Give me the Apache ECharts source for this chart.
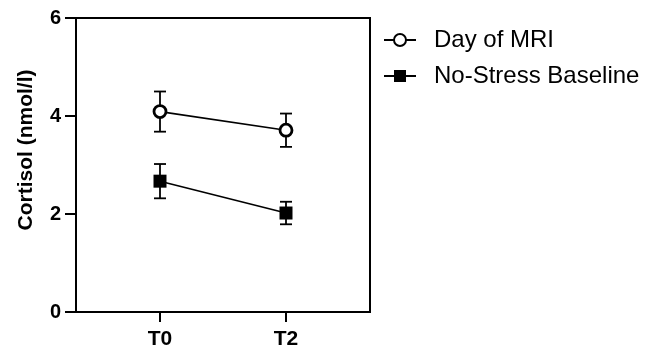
<!DOCTYPE html>
<html>
<head>
<meta charset="utf-8">
<script src="https://cdn.jsdelivr.net/npm/echarts@6/dist/echarts.min.js"></script>
<style>html,body{margin:0;padding:0;background:#fff}#c{width:650px;height:348px}</style>
</head>
<body>
<div id="c"></div>
<script>
var categories = ['T0', 'T2'];
var dayOfMRI = [4.09, 3.71];
var dayOfMRIErr = [0.41, 0.34];
var noStress = [2.67, 2.02];
var noStressErr = [0.35, 0.23];
var yTicks = [0, 2, 4, 6];

// axis layout: 8 slots, categories placed in slots 2 and 5
var slotCount = 8, catSlots = [2, 5];
var axisData = [];
for (var i = 0; i < slotCount; i++) axisData.push('');
categories.forEach(function (c, k) { axisData[catSlots[k]] = c; });

function pts(vals) { return vals.map(function (v, k) { return [catSlots[k], v]; }); }
function errData(vals, errs) { return vals.map(function (v, k) { return [catSlots[k], v - errs[k], v + errs[k]]; }); }

function errRender(params, api) {
  var x = api.value(0), lo = api.value(1), hi = api.value(2);
  var pLo = api.coord([x, lo]), pHi = api.coord([x, hi]);
  var w = 6;
  var st = { stroke: '#000', lineWidth: 1.8 };
  return { type: 'group', children: [
    { type: 'line', shape: { x1: pLo[0], y1: pLo[1], x2: pHi[0], y2: pHi[1] }, style: st },
    { type: 'line', shape: { x1: pLo[0] - w, y1: pLo[1], x2: pLo[0] + w, y2: pLo[1] }, style: st },
    { type: 'line', shape: { x1: pHi[0] - w, y1: pHi[1], x2: pHi[0] + w, y2: pHi[1] }, style: st }
  ]};
}

var font = 'Liberation Sans, Arial, Helvetica, sans-serif';
var chart = echarts.init(document.getElementById('c'));
chart.setOption({
  animation: false,
  grid: { left: 76, right: 280, top: 18, bottom: 36, outerBoundsMode: 'none', containLabel: false,
    show: true, borderColor: '#000', borderWidth: 2, backgroundColor: 'transparent' },
  legend: {
    left: 383, top: 28, orient: 'vertical', itemWidth: 32, itemHeight: 15, itemGap: 12, padding: 0,
    textStyle: { fontFamily: font, fontSize: 24, color: '#000', padding: [0, 0, 0, 13] },
    data: ['Day of MRI', 'No-Stress Baseline']
  },
  xAxis: {
    type: 'category', data: axisData, boundaryGap: false,
    axisLine: { lineStyle: { color: '#000', width: 2 } },
    axisTick: { length: 10, lineStyle: { color: '#000', width: 2 }, interval: function (i, v) { return v !== ''; } },
    axisLabel: { interval: function (i, v) { return v !== ''; }, fontFamily: font, fontWeight: 'bold', fontSize: 21, color: '#000', margin: 17 },
    splitLine: { show: false }
  },
  yAxis: {
    type: 'value', min: 0, max: 6, interval: 2,
    name: 'Cortisol (nmol/l)', nameLocation: 'middle', nameGap: 39,
    nameTextStyle: { fontFamily: font, fontWeight: 'bold', fontSize: 21, color: '#000', padding: [0, 0, 0, 30] },
    axisLine: { show: true, lineStyle: { color: '#000', width: 2 } },
    axisTick: { show: true, length: 11, lineStyle: { color: '#000', width: 2 } },
    axisLabel: { fontFamily: font, fontWeight: 'bold', fontSize: 20, color: '#000', margin: 15,
      formatter: function (v) { return yTicks.indexOf(v) >= 0 ? String(v) : ''; } },
    splitLine: { show: false }
  },
  series: [
    { type: 'custom', renderItem: errRender, data: errData(dayOfMRI, dayOfMRIErr), z: 1, silent: true },
    { type: 'custom', renderItem: errRender, data: errData(noStress, noStressErr), z: 1, silent: true },
    { name: 'Day of MRI', type: 'line', data: pts(dayOfMRI), z: 3,
      symbol: 'circle', symbolSize: 12,
      itemStyle: { color: '#fff', borderColor: '#000', borderWidth: 2.8 },
      lineStyle: { color: '#000', width: 1.6 } },
    { name: 'No-Stress Baseline', type: 'line', data: pts(noStress), z: 3,
      symbol: 'rect', symbolSize: 13,
      itemStyle: { color: '#000', borderColor: '#000', borderWidth: 0 },
      lineStyle: { color: '#000', width: 1.6 } }
  ]
});
</script>
</body>
</html>
